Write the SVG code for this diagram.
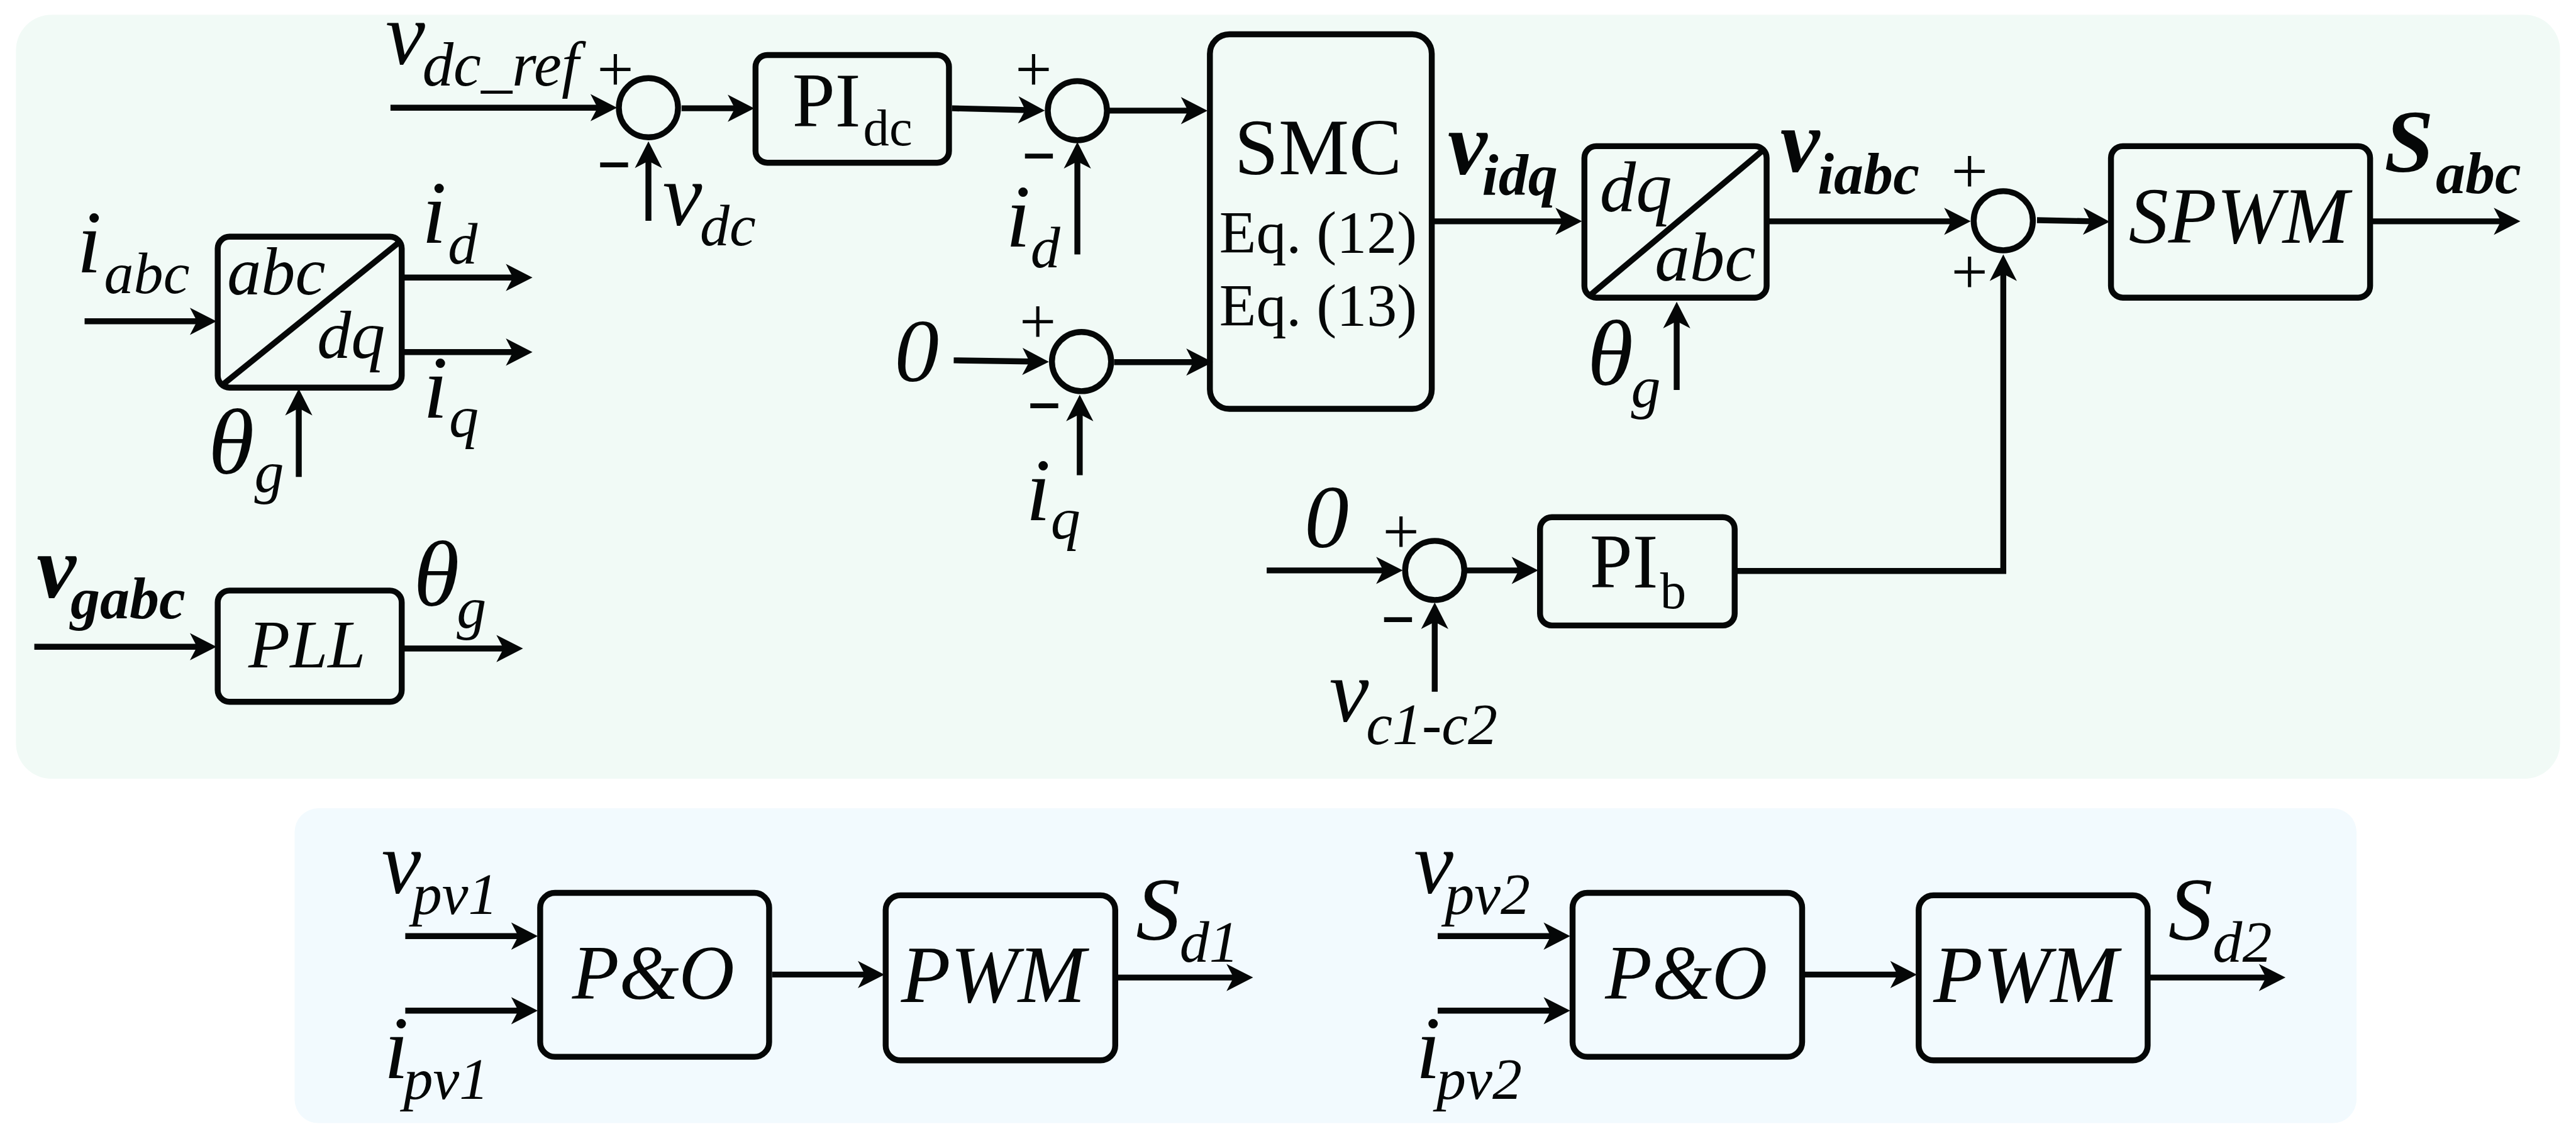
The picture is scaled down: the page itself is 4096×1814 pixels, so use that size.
<svg xmlns="http://www.w3.org/2000/svg" width="4096" height="1814" viewBox="0 0 4096 1814">
<style>
text{font-family:"Liberation Serif","Times New Roman",serif;fill:#050707}
.m{font-size:150px;font-style:italic}
.t{font-size:158px;font-style:italic}
.s{font-size:100px;font-style:italic}
.b{font-weight:bold}
.box,.sum{fill:none;stroke:#050707;stroke-width:10}
.c path{fill:none;stroke:#050707;stroke-width:10;marker-end:url(#ah)}
.pm{font-size:110px;text-anchor:middle}
.mn{font-size:88px;text-anchor:middle;font-weight:bold;stroke:#050707;stroke-width:2}
</style>
<defs>
<marker id="ah" markerUnits="userSpaceOnUse" markerWidth="60" markerHeight="60" refX="15" refY="25" orient="auto" overflow="visible"><path d="M0,2L45,25L0,48L12,25Z" fill="#050707"/></marker>
</defs>
<rect width="4096" height="1814" fill="#fff"/>
<g transform="scale(0.94074)">
<rect id="panel-main" x="27" y="25" width="4300" height="1291" rx="60" fill="#f1faf6"/>
<rect id="panel-pv" x="498" y="1366" width="3485" height="532" rx="40" fill="#f2fafe"/>
<g id="connectors" class="c">
<path d="M660,182H1013"/>
<path d="M1152,183H1245"/>
<path d="M1096,373V269"/>
<path d="M143,543H336"/>
<path d="M680,469H870"/>
<path d="M680,595H870"/>
<path d="M505,806V687"/>
<path d="M58,1093H336"/>
<path d="M680,1096H854"/>
<path d="M1609,183L1736,186"/>
<path d="M1875,187H2011"/>
<path d="M1821,430V270"/>
<path d="M1612,609L1743,611"/>
<path d="M1883,612H2020"/>
<path d="M1825,803V697"/>
<path d="M2422,374H2644"/>
<path d="M2834,659V540"/>
<path d="M2141,964H2341"/>
<path d="M2479,964H2570"/>
<path d="M2425,1169V1048"/>
<path d="M2988,374H3301"/>
<path d="M3443,372L3536,374"/>
<path d="M4008,374H4230"/>
<path d="M2932,965H3386V460"/>
<path d="M685,1582H879"/>
<path d="M685,1708H879"/>
<path d="M1305,1647H1465"/>
<path d="M1889,1652H2088"/>
<path d="M2430,1582H2624"/>
<path d="M2430,1708H2624"/>
<path d="M3050,1647H3210"/>
<path d="M3633,1652H3833"/>
</g>
<g id="label-vdcref"><text><tspan class="m" x="652" y="108">v</tspan><tspan class="s" x="714" y="145" style="font-size:105px">dc_ref</tspan></text></g>
<g id="sum1"><circle class="sum" cx="1096" cy="182" r="50"/><text class="pm" x="1040" y="154">+</text><text class="mn" x="1038" y="299">–</text></g>
<g id="label-vdc"><text><tspan class="m" x="1120" y="381">v</tspan><tspan class="s" x="1183" y="415">dc</tspan></text></g>
<g id="pi-dc"><rect class="box" x="1277" y="93" width="327" height="182" rx="20"/><text><tspan x="1339" y="214" font-size="130">PI</tspan><tspan x="1459" y="246" font-size="88">dc</tspan></text></g>
<g id="sum2"><circle class="sum" cx="1821" cy="187" r="50"/><text class="pm" x="1747" y="154">+</text><text class="mn" x="1756" y="284">–</text></g>
<g id="label-id2"><text><tspan class="m" x="1700" y="417">i</tspan><tspan class="s" x="1742" y="452">d</tspan></text></g>
<g id="label-zero1"><text class="m" x="1512" y="644">0</text></g>
<g id="sum3"><circle class="sum" cx="1828" cy="611" r="50"/><text class="pm" x="1754" y="580">+</text><text class="mn" x="1765" y="706">–</text></g>
<g id="label-iq2"><text><tspan class="m" x="1734" y="879">i</tspan><tspan class="s" x="1776" y="910">q</tspan></text></g>
<g id="smc"><rect class="box" x="2045" y="58" width="375" height="633" rx="33"/><text x="2228" y="294" font-size="134" text-anchor="middle">SMC</text><text x="2228" y="427" font-size="102" text-anchor="middle">Eq. (12)</text><text x="2228" y="551" font-size="102" text-anchor="middle">Eq. (13)</text></g>
<g id="label-vidq"><text><tspan class="m b" x="2447" y="294">v</tspan><tspan class="s b" x="2505" y="329">idq</tspan></text></g>
<g id="dq-abc"><rect class="box" x="2678" y="247" width="308" height="256" rx="20"/><path class="box" d="M2690,497L2981,253"/><text class="s" x="2704" y="357" style="font-size:122px">dq</text><text class="s" x="2797" y="474" style="font-size:118px">abc</text></g>
<g id="label-theta2"><text><tspan class="t" x="2683" y="651">θ</tspan><tspan class="s" x="2757" y="688">g</tspan></text></g>
<g id="label-viabc"><text><tspan class="m b" x="3009" y="290">v</tspan><tspan class="s b" x="3072" y="327">iabc</tspan></text></g>
<g id="sum5"><circle class="sum" cx="3386" cy="373" r="50"/><text class="pm" x="3329" y="326">+</text><text class="pm" x="3329" y="496">+</text></g>
<g id="spwm"><rect class="box" x="3568" y="247" width="438" height="256" rx="20"/><text x="3598" y="410" font-size="134" font-style="italic">SPWM</text></g>
<g id="label-sabc"><text><tspan class="m b" x="4030" y="290">S</tspan><tspan class="s b" x="4117" y="326">abc</tspan></text></g>
<g id="label-zero2"><text class="m" x="2205" y="925">0</text></g>
<g id="sum4"><circle class="sum" cx="2425" cy="964" r="50"/><text class="pm" x="2368" y="935">+</text><text class="mn" x="2363" y="1067">–</text></g>
<g id="pi-b"><rect class="box" x="2603" y="874" width="329" height="183" rx="20"/><text><tspan x="2687" y="993" font-size="130">PI</tspan><tspan x="2806" y="1028" font-size="88">b</tspan></text></g>
<g id="label-vc"><text><tspan class="m" x="2247" y="1219">v</tspan><tspan class="s" x="2309" y="1258">c1-c2</tspan></text></g>
<g id="label-iabc"><text><tspan class="m" x="130" y="460">i</tspan><tspan class="s" x="176" y="495">abc</tspan></text></g>
<g id="abc-dq"><rect class="box" x="368" y="400" width="311" height="255" rx="20"/><path class="box" d="M379,648L674,410"/><text class="s" x="384" y="497" style="font-size:115px">abc</text><text class="s" x="536" y="605" style="font-size:115px">dq</text></g>
<g id="label-id"><text><tspan class="m" x="713" y="410">i</tspan><tspan class="s" x="757" y="445">d</tspan></text></g>
<g id="label-iq"><text><tspan class="m" x="715" y="706">i</tspan><tspan class="s" x="759" y="738">q</tspan></text></g>
<g id="label-theta1"><text><tspan class="t" x="352" y="800">θ</tspan><tspan class="s" x="430" y="831">g</tspan></text></g>
<g id="label-vgabc"><text><tspan class="m b" x="62" y="1010">v</tspan><tspan class="s b" x="119" y="1045">gabc</tspan></text></g>
<g id="pll"><rect class="box" x="368" y="998" width="311" height="188" rx="20"/><text x="420" y="1128" font-size="115" font-style="italic">PLL</text></g>
<g id="label-theta3"><text><tspan class="t" x="699" y="1024">θ</tspan><tspan class="s" x="772" y="1061">g</tspan></text></g>
<g id="label-vpv1"><text><tspan class="m" x="645" y="1509">v</tspan><tspan class="s" x="697" y="1544">pv1</tspan></text></g>
<g id="label-ipv1"><text><tspan class="m" x="649" y="1822">i</tspan><tspan class="s" x="682" y="1857">pv1</tspan></text></g>
<g id="po1"><rect class="box" x="913" y="1509" width="387" height="277" rx="25"/><text x="967" y="1688" font-size="130" font-style="italic">P&amp;O</text></g>
<g id="pwm1"><rect class="box" x="1497" y="1513" width="388" height="279" rx="25"/><text x="1523" y="1693" font-size="137" font-style="italic">PWM</text></g>
<g id="label-sd1"><text><tspan class="m" x="1920" y="1588">S</tspan><tspan class="s" x="1994" y="1625">d1</tspan></text></g>
<g id="label-vpv2"><text><tspan class="m" x="2390" y="1509">v</tspan><tspan class="s" x="2442" y="1544">pv2</tspan></text></g>
<g id="label-ipv2"><text><tspan class="m" x="2393" y="1822">i</tspan><tspan class="s" x="2428" y="1857">pv2</tspan></text></g>
<g id="po2"><rect class="box" x="2658" y="1509" width="388" height="277" rx="25"/><text x="2713" y="1688" font-size="130" font-style="italic">P&amp;O</text></g>
<g id="pwm2"><rect class="box" x="3243" y="1513" width="387" height="279" rx="25"/><text x="3268" y="1693" font-size="137" font-style="italic">PWM</text></g>
<g id="label-sd2"><text><tspan class="m" x="3665" y="1588">S</tspan><tspan class="s" x="3740" y="1625">d2</tspan></text></g>
</g>
</svg>
